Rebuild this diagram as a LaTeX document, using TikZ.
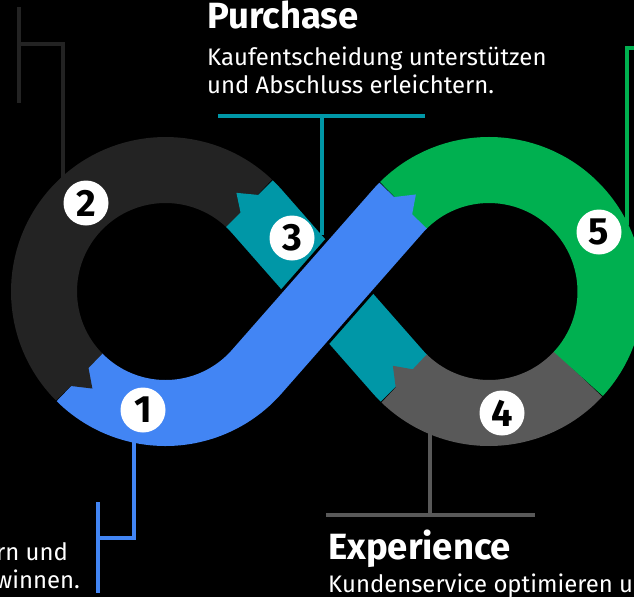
\documentclass[tikz,border=0pt]{standalone}
\usepackage{fontspec}
\setmainfont{Fira Sans}
\usetikzlibrary{calc}
\definecolor{cdark}{HTML}{232323}
\definecolor{cteal}{HTML}{0097A7}
\definecolor{cblue}{HTML}{4285F4}
\definecolor{cgreen}{HTML}{00B050}
\definecolor{cgray}{HTML}{595959}
\newcommand\R{121.5}
\newcommand\Ri{107.5}
\newcommand\Ro{135.5}
% #1 colour, #2 centre, #3 base angle, #4 tip angle
\newcommand\mytooth[4]{\fill[#1] ($(#2)+(#3:\Ri)$) -- ($(#2)+(#3:\Ro)$) -- ($(#2)+(#4:\R)$) -- cycle;}
\begin{document}
\begin{tikzpicture}[x=1pt,y=-1pt,
  band/.style={line width=66pt, line cap=butt},
  lead/.style={line width=3.5pt},
  num/.style={circle, fill=white, minimum size=45pt, inner sep=0pt,
    font=\fontsize{38}{38}\selectfont\bfseries, text=black},
  title/.style={anchor=base west, inner sep=0pt,
    font=\fontsize{36.5}{40}\selectfont\bfseries, text=white},
  body/.style={inner sep=0pt, font=\fontsize{23.9}{28}\selectfont, text=white},
]
\useasboundingbox (0,0) rectangle (634,597);
\fill[black] (0,0) rectangle (634,597);
\clip (0,0) rectangle (634,597);

\coordinate (O1) at (165.5,291.5);
\coordinate (O2) at (489,291.5);

% leader coordinates
\coordinate (d1) at (19,7);   \coordinate (d2) at (19,103);
\coordinate (d3) at (19,44);  \coordinate (d4) at (63,44);  \coordinate (d5) at (63,185);
\coordinate (t1) at (218,116); \coordinate (t2) at (425,116);
\coordinate (t3) at (322,116); \coordinate (t4) at (322,235);
\coordinate (g1) at (627,48); \coordinate (g2) at (645,48); \coordinate (g3) at (627,225);
\coordinate (b1) at (134,440); \coordinate (b2) at (134,538); \coordinate (b3) at (98,538);
\coordinate (b4) at (98,502); \coordinate (b5) at (98,593);
\coordinate (k1) at (430,430); \coordinate (k2) at (430,515);
\coordinate (k3) at (326,515); \coordinate (k4) at (535,515);

% leaders
\draw[lead, cdark] (d1) -- (d2);
\draw[lead, cdark] (d3) -- (d4) -- (d5);
\draw[lead, cteal] (t1) -- (t2);
\draw[lead, cteal] (t3) -- (t4);
\draw[lead, cgreen] (g2) -- (g1) -- (g3);
\draw[lead, cblue] (b1) -- (b2) -- (b3);
\draw[lead, cblue] (b4) -- (b5);
\draw[lead, cgray] (k1) -- (k2);
\draw[lead, cgray] (k3) -- (k4);

% bands
\draw[band, cdark] (O1) ++(313.7:\R) arc[start angle=313.7, end angle=135, radius=\R];
\draw[band, cteal] (O2) ++(134.3:\R) arc[start angle=134.3, end angle=138.69, radius=\R]
   -- ($(O1)+(318.69:\R)$) arc[start angle=318.69, end angle=313.7, radius=\R];
\draw[band, cgray] (O2) ++(42.7:\R) arc[start angle=42.7, end angle=134.3, radius=\R];
\draw[band, cgreen] (O2) ++(225:\R) arc[start angle=225, end angle=402.7, radius=\R];
\mytooth{cgray}{O2}{133.3}{142.3}
\mytooth{cteal}{O1}{314.7}{305.7}
\draw[line width=72pt, black] ($(O1)+(41.31:\R)$) -- ($(O2)+(221.31:\R)$);
\draw[band, cblue] (O1) ++(135:\R) arc[start angle=135, end angle=41.31, radius=\R]
   -- ($(O2)+(221.31:\R)$) arc[start angle=221.31, end angle=225, radius=\R];
\mytooth{cdark}{O1}{136}{127}
\mytooth{cblue}{O2}{224}{233}

% numbers
\node[num] (n1) at (143,410) {1};
\node[num] (n2) at (86,203) {2};
\node[num] (n3) at (292,238) {3};
\node[num] (n4) at (502,413) {4};
\node[num] (n5) at (599,232) {5};

% texts
\node[title] (pt) at (207,28) {Purchase};
\node[body, anchor=base west] (pb1) at (207,65) {Kaufentscheidung unterstützen};
\node[body, anchor=base west] (pb2) at (207,93) {und Abschluss erleichtern.};
\node[title] (et) at (328,559) {Experience};
\node[body, anchor=base west] (eb1) at (328,592) {Kundenservice optimieren u};
\node[body, anchor=base east] (ab1) at (68,560) {rn und};
\node[body, anchor=base east] (ab2) at (80,588) {winnen.};
\end{tikzpicture}
\end{document}
